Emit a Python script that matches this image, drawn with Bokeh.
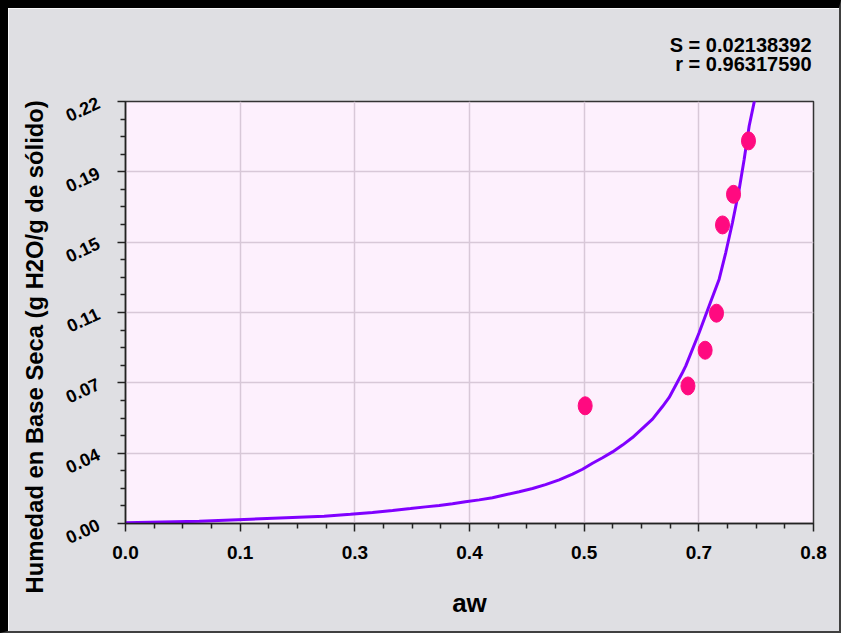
import math
from bokeh.plotting import figure
from bokeh.models import FixedTicker, Range1d, Title
from bokeh.embed import file_html
from bokeh.resources import INLINE

# ---- data ----
aw_obs = [0.5345, 0.654, 0.674, 0.6872, 0.6942, 0.707, 0.7244]
m_obs = [0.0623, 0.0728, 0.0917, 0.1113, 0.158, 0.1742, 0.2025]

aw_fit = [0.0, 0.0857, 0.1453, 0.1942, 0.2310, 0.2616, 0.2872, 0.3105, 0.3314, 0.3488,
          0.3648, 0.3802, 0.3953, 0.4113, 0.4267, 0.4419, 0.4578, 0.4733, 0.4884, 0.5043,
          0.5198, 0.5314, 0.5430, 0.5547, 0.5663, 0.5779, 0.5895, 0.6128, 0.6244, 0.6322,
          0.6477, 0.6515, 0.6671, 0.6787, 0.6903, 0.6980, 0.7058, 0.7136, 0.7194, 0.7252,
          0.7317]
m_fit = [0.0004, 0.0012, 0.0023, 0.0032, 0.0039, 0.0049, 0.0058, 0.0069, 0.0079, 0.0088,
         0.0095, 0.0104, 0.0115, 0.0125, 0.0136, 0.0152, 0.0168, 0.0185, 0.0206, 0.0231,
         0.0261, 0.0287, 0.0319, 0.0348, 0.0379, 0.0415, 0.0455, 0.0552, 0.0619, 0.0667,
         0.0799, 0.0834, 0.1011, 0.1152, 0.1293, 0.1434, 0.1593, 0.1769, 0.1928, 0.2104,
         0.2245]

x_ticks = [0.0, 0.13333, 0.26667, 0.4, 0.53333, 0.66667, 0.8]
x_tick_labels = ["0.0", "0.1", "0.3", "0.4", "0.5", "0.7", "0.8"]
y_ticks = [0.0, 0.037222, 0.074444, 0.111667, 0.148889, 0.186111, 0.223333]
y_tick_labels = ["0.00", "0.04", "0.07", "0.11", "0.15", "0.19", "0.22"]

stats_lines = ["S = 0.02138392", "r = 0.96317590"]
x_title = "aw"
y_title = "Humedad en Base Seca (g H2O/g de sólido)"

FONT = "Liberation Sans"


def minors(ticks, n=4):
    out = []
    for a, b in zip(ticks[:-1], ticks[1:]):
        for k in range(1, n):
            out.append(a + (b - a) * k / n)
    return out


p = figure(frame_width=688, frame_height=422,
           min_border_left=117, min_border_right=26, min_border_top=93, min_border_bottom=108,
           x_range=Range1d(x_ticks[0], x_ticks[-1]), y_range=Range1d(y_ticks[0], y_ticks[-1]),
           output_backend="svg", toolbar_location=None,
           background_fill_color="#fdf0fd", border_fill_color="#dfdfe3")

# outer frame of the picture: thick black top/left, thin dark right/bottom
p.styles = {"border-top": "8px solid black", "border-left": "8px solid black",
            "border-right": "2px solid #404040", "border-bottom": "2px solid #404040"}

p.outline_line_color = "#333333"
p.outline_line_width = 1.5

p.xaxis.ticker = FixedTicker(ticks=x_ticks, minor_ticks=minors(x_ticks))
p.yaxis.ticker = FixedTicker(ticks=y_ticks, minor_ticks=minors(y_ticks))
p.xaxis.major_label_overrides = {t: l for t, l in zip(x_ticks, x_tick_labels)}
p.yaxis.major_label_overrides = {t: l for t, l in zip(y_ticks, y_tick_labels)}
p.xgrid.ticker = FixedTicker(ticks=x_ticks)
p.ygrid.ticker = FixedTicker(ticks=y_ticks)

for ax in (p.xaxis[0], p.yaxis[0]):
    ax.axis_line_color = "#222222"
    ax.axis_line_width = 1.5
    ax.major_tick_line_color = "#222222"
    ax.minor_tick_line_color = "#222222"
    ax.major_tick_line_width = 1.5
    ax.minor_tick_line_width = 1.5
    ax.major_tick_out = 8
    ax.major_tick_in = 0
    ax.minor_tick_out = 5
    ax.minor_tick_in = 0
    ax.major_label_text_font = FONT
    ax.major_label_text_font_style = "bold"
    ax.major_label_text_color = "black"

p.xaxis.major_label_text_font_size = "19px"
p.xaxis.major_label_standoff = 14
p.xaxis.axis_label = x_title
p.xaxis.axis_label_text_font = FONT
p.xaxis.axis_label_text_font_style = "bold"
p.xaxis.axis_label_text_font_size = "26px"
p.xaxis.axis_label_text_color = "black"
p.xaxis.axis_label_standoff = 26

p.yaxis.major_label_text_font_size = "18px"
p.yaxis.major_label_orientation = 0.44
p.yaxis.major_label_standoff = 19

for g in (p.xgrid[0], p.ygrid[0]):
    g.grid_line_color = "#d8c8d8"
    g.grid_line_width = 1.5

p.line(aw_fit, m_fit, line_color="#8000ff", line_width=3)
p.ellipse(x=aw_obs, y=m_obs, width=14, height=18, width_units="screen", height_units="screen",
          fill_color="#ff0a80", line_color="#ff0a80")

# y title on the left panel, starting below the frame bottom like the reference
p.add_layout(Title(text=y_title, align="left", offset=-70, standoff=21,
                   text_font=FONT, text_font_style="bold", text_font_size="23.8px",
                   text_color="black"), "left")

# statistics in the top panel: a blank spacer nearest the frame, then r, then S
p.add_layout(Title(text=" ", align="right", standoff=0, text_font=FONT,
                   text_font_size="22px", text_line_height=1.0), "above")
for line, so in zip(reversed(stats_lines), (-1, -9)):
    p.add_layout(Title(text=line, align="right", offset=2, standoff=so,
                       text_font=FONT, text_font_style="bold", text_font_size="20px",
                       text_color="black", text_line_height=0.85), "above")

open("out.html", "w").write(file_html(p, INLINE))
